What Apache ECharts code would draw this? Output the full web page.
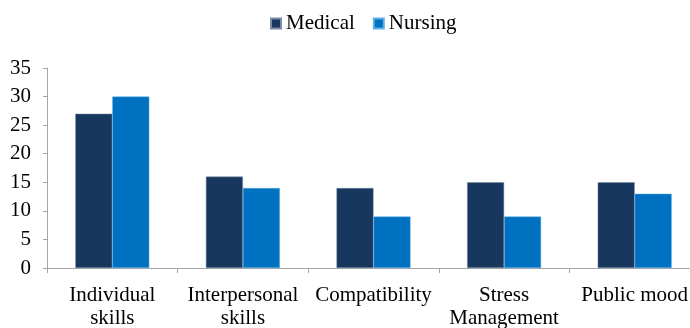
<!DOCTYPE html>
<html>
<head>
<meta charset="utf-8">
<script src="https://cdn.jsdelivr.net/npm/echarts@6/dist/echarts.min.js"></script>
<style>
  html, body { margin: 0; padding: 0; background: #fff; }
  #chart { width: 690px; height: 328px; }
</style>
</head>
<body>
<div id="chart"></div>
<script>
// data
const categories = ['Individual\nskills', 'Interpersonal\nskills', 'Compatibility', 'Stress\nManagement', 'Public mood']
const medical = [27, 16, 14, 15, 15]
const nursing = [30, 14, 9, 9, 13]

const chart = echarts.init(document.getElementById('chart'))
const font = 'Liberation Serif, Times New Roman, serif'

chart.setOption({
  animation: false,
  textStyle: { fontFamily: font },
  legend: {
    top: 8,
    left: 265,
    itemWidth: 10,
    itemHeight: 10,
    itemGap: 18,
    icon: 'rect',
    textStyle: { fontFamily: font, fontSize: 21, color: '#000' },
    data: ['Medical', 'Nursing']
  },
  grid: {
    left: 47,
    top: 68,
    width: 653,
    height: 200,
    containLabel: false,
    outerBoundsMode: 'none'
  },
  xAxis: {
    type: 'category',
    data: categories,
    axisLine: { lineStyle: { color: '#A6A6A6', width: 1 } },
    axisTick: { show: true, length: 5, lineStyle: { color: '#A6A6A6' } },
    axisLabel: {
      fontFamily: font,
      fontSize: 21,
      color: '#000',
      margin: 16,
      lineHeight: 23,
      interval: 0
    }
  },
  yAxis: {
    type: 'value',
    min: 0,
    max: 35,
    interval: 5,
    splitLine: { show: false },
    axisLine: { show: true, lineStyle: { color: '#A6A6A6', width: 1 } },
    axisTick: { show: true, length: 4, lineStyle: { color: '#A6A6A6' } },
    axisLabel: { fontFamily: font, fontSize: 21, color: '#000', margin: 16 }
  },
  series: [
    {
      name: 'Medical',
      type: 'bar',
      data: medical,
      barWidth: 37,
      barGap: '0%',
      itemStyle: { color: '#17375E', borderColor: '#7b8ca3', borderWidth: 0.5 }
    },
    {
      name: 'Nursing',
      type: 'bar',
      data: nursing,
      barWidth: 37,
      barGap: '0%',
      itemStyle: { color: '#0070C0', borderColor: '#5fb0e8', borderWidth: 0.5 }
    }
  ]
})
</script>
</body>
</html>
